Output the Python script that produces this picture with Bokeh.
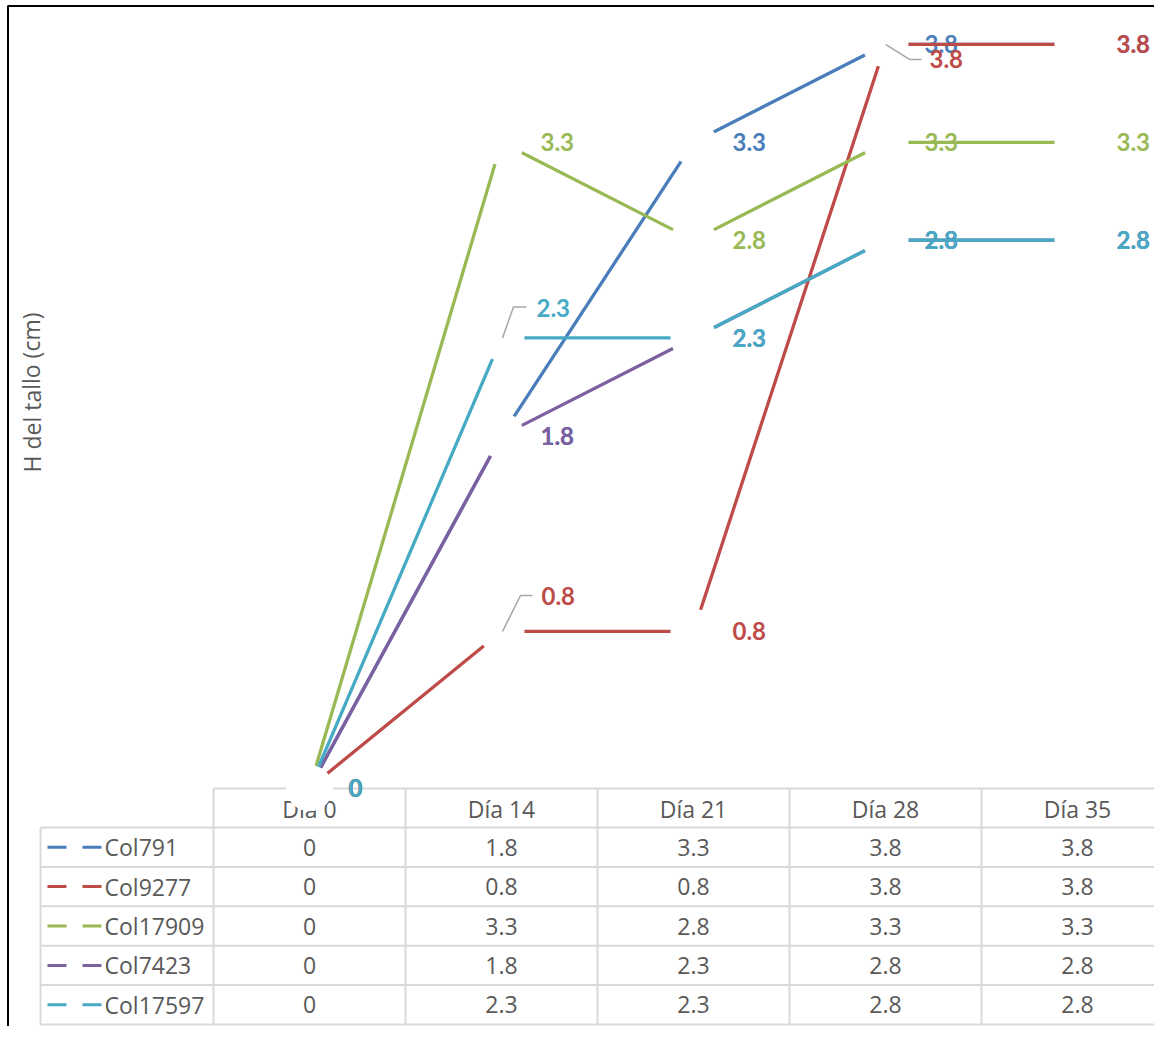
from bokeh.plotting import figure
from bokeh.models import Range1d
from bokeh.core.properties import value
from bokeh.embed import file_html
from bokeh.resources import INLINE

# ---------------- data ----------------
categories = ["Día 0", "Día 14", "Día 21", "Día 28", "Día 35"]
series_names = ["Col791", "Col9277", "Col17909", "Col7423", "Col17597"]
col791 = [0, 1.8, 3.3, 3.8, 3.8]
col9277 = [0, 0.8, 0.8, 3.8, 3.8]
col17909 = [0, 3.3, 2.8, 3.3, 3.3]
col7423 = [0, 1.8, 2.3, 2.8, 2.8]
col17597 = [0, 2.3, 2.3, 2.8, 2.8]
y_title = "H del tallo (cm)"

series_values = [col791, col9277, col17909, col7423, col17597]
colors = ["#4A7EBB", "#BE4B48", "#98B954", "#7D60A0", "#46AAC5"]

# ---------------- layout (pixels in the picture) ----------------
W, H = 1154, 1026
ORIGIN = 0
X0, DXP = 309, 192          # px of first category, px per category
Y0, DYP = 787.5, 195.67     # px of value 0, px per unit


def dx(px):
    return (px - X0) / DXP


def dy(py):
    return (Y0 - py) / DYP


TXT = "#595959"
GRID = "#D9D9D9"
TABLE_FONT = value("Open Sans")
LABEL_FONT = value("Lato")

p = figure(width=W, height=H, output_backend="svg", toolbar_location=None,
           x_range=Range1d(dx(ORIGIN), dx(ORIGIN + W)),
           y_range=Range1d(dy(ORIGIN + H), dy(ORIGIN)),
           x_axis_type=None, y_axis_type=None, min_border=0,
           outline_line_color=None, background_fill_color="white",
           border_fill_color="white")

# chart frame (left and top edges visible)
p.segment(x0=[dx(7.5), dx(7)], y0=[dy(1030), dy(5.5)],
          x1=[dx(7.5), dx(ORIGIN + W)], y1=[dy(5.5), dy(5.5)],
          line_color="black", line_width=2)

# y-axis title
p.text(x=[dx(31)], y=[dy(392)], text=[y_title], angle=1.5708,
       text_font=TABLE_FONT, text_font_size="23px", text_color=TXT,
       text_align="center", text_baseline="middle")

# ---------------- data table ----------------
n = len(categories)
TOP = 788
HEAD_H = 39
ROW_H = 39.4
row_edges = [TOP] + [TOP + HEAD_H + ROW_H * k for k in range(len(series_names) + 1)]
right = dx(ORIGIN + W)
left_legend = dx(40)

hx0, hy0, hx1, hy1 = [], [], [], []
for k, e in enumerate(row_edges):
    hx0.append(-0.5 if k == 0 else left_legend)
    hx1.append(right)
    hy0.append(dy(e))
    hy1.append(dy(e))
# vertical lines
vx = [left_legend] + [i - 0.5 for i in range(n)]
for j, x in enumerate(vx):
    hx0.append(x)
    hx1.append(x)
    hy0.append(dy(row_edges[1] if j == 0 else row_edges[0]))
    hy1.append(dy(row_edges[-1]))
p.segment(x0=hx0, y0=hy0, x1=hx1, y1=hy1, line_color=GRID, line_width=2)

# header row
p.text(x=list(range(n)), y=[dy(TOP + HEAD_H / 2 + 1)] * n, text=categories,
       text_font=TABLE_FONT, text_font_size="23px", text_color=TXT,
       text_align="center", text_baseline="middle")

for s, (name, vals, col) in enumerate(zip(series_names, series_values, colors)):
    cy = TOP + HEAD_H + ROW_H * s + ROW_H / 2
    # legend key (dashed line sample)
    p.segment(x0=[dx(47), dx(82)], y0=[dy(cy)] * 2, x1=[dx(66), dx(101)], y1=[dy(cy)] * 2,
              line_color=col, line_width=3)
    p.text(x=[dx(104)], y=[dy(cy)], text=[name], text_font=TABLE_FONT,
           text_font_size="23px", text_color=TXT, text_align="left",
           text_baseline="middle")
    p.text(x=list(range(n)), y=[dy(cy)] * n, text=[f"{v:g}" for v in vals],
           text_font=TABLE_FONT, text_font_size="23px", text_color=TXT,
           text_align="center", text_baseline="middle")

# ---------------- data labels ----------------
LBL_DX, LBL_DY = 39, 0  # default pixel offset (right of the point)
moved = {(1, 1): (40, -35), (4, 1): (35, -30), (1, 3): (44, 15)}
leaders = {(1, 1): [(1, 0), (19, -36), (31, -36)],
           (4, 1): [(1, 0), (12, -31), (25, -31)],
           (1, 3): [(0, 0), (24, 15), (36, 15)]}

for s, (vals, col) in enumerate(zip(series_values, colors)):
    lx, ly, lt = [], [], []
    for i, v in enumerate(vals):
        ox, oy = moved.get((s, i), (LBL_DX, LBL_DY))
        lx.append(i + ox / DXP)
        ly.append(v - oy / DYP)
        lt.append(f"{v:g}")
    p.text(x=lx, y=ly, text=lt, text_font=LABEL_FONT, text_font_style="bold",
           text_font_size="24px", text_color=col, text_align="left",
           text_baseline="middle")

# ---------------- series lines with white markers ----------------
xs = list(range(n))
for vals, col in zip(series_values, colors):
    p.line(xs, vals, line_color=col, line_width=3.3)
    p.scatter(xs, vals, size=46, fill_color="white", line_color=None)

# leader lines
for (s, i), path in leaders.items():
    v = series_values[s][i]
    p.line([i + ox / DXP for ox, oy in path], [v - oy / DYP for ox, oy in path],
           line_color="#A6A6A6", line_width=1.5)

open("out.html", "w").write(file_html(p, INLINE))
